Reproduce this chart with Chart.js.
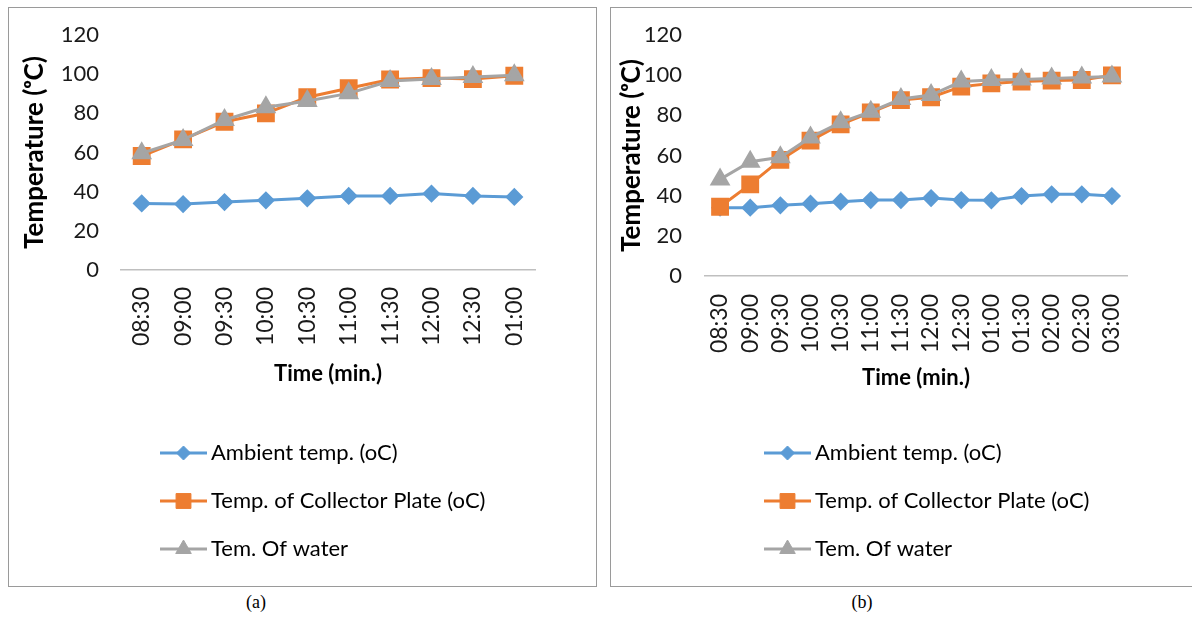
<!DOCTYPE html>
<html>
<head>
<meta charset="utf-8">
<script src="https://cdn.jsdelivr.net/npm/chart.js@4.4.1/dist/chart.umd.min.js"></script>
<style>
    body { margin: 0; background: #fff; width: 1192px; height: 617px; overflow: hidden; position: relative; }
    .panel { position: absolute; top: 7px; height: 578px; border: 1px solid #9a9a9a; background: #fff; }
    #panelA { left: 8px; width: 587px; }
    #panelB { left: 610px; width: 600px; }
    canvas { display: block; }
    .caption { position: absolute; top: 592px; font-family: 'Liberation Serif', serif; font-size: 18px; color: #000; transform: translateX(-50%); }
</style>
</head>
<body>
<div class="panel" id="panelA"><canvas id="chartA" width="587" height="578"></canvas></div>
<div class="panel" id="panelB"><canvas id="chartB" width="581" height="578"></canvas></div>
<div class="caption" style="left:256px">(a)</div>
<div class="caption" style="left:862px">(b)</div>
<script>
// chart (a) data
const timesA = ['08:30', '09:00', '09:30', '10:00', '10:30', '11:00', '11:30', '12:00', '12:30', '01:00'];
const ambientA = [34.0, 33.7, 34.7, 35.6, 36.6, 37.8, 37.8, 39.0, 37.8, 37.3];
const plateA = [58.2, 66.7, 75.7, 80.0, 88.2, 92.8, 97.3, 98.0, 97.5, 99.2];
const waterA = [59.6, 66.4, 76.6, 83.1, 86.3, 90.2, 96.5, 97.5, 98.5, 99.5];

// chart (b) data
const timesB = ['08:30', '09:00', '09:30', '10:00', '10:30', '11:00', '11:30', '12:00', '12:30', '01:00', '01:30', '02:00', '02:30', '03:00'];
const ambientB = [34.0, 34.0, 35.2, 36.0, 37.0, 37.8, 37.8, 38.8, 37.8, 37.7, 39.8, 40.7, 40.7, 39.8];
const plateB = [34.5, 45.6, 57.8, 67.4, 75.5, 81.5, 87.6, 89.0, 94.3, 95.9, 96.8, 97.3, 97.6, 99.9];
const waterB = [48.1, 56.9, 59.1, 69.0, 76.5, 81.8, 88.1, 90.1, 96.8, 97.6, 97.9, 98.4, 98.9, 99.3];

const seriesNames = ['Ambient temp. (oC)', 'Temp. of Collector Plate (oC)', 'Tem. Of water'];
const yTicks = [0, 20, 40, 60, 80, 100, 120];

const FONT = "Lato, 'DejaVu Sans', sans-serif";

// legend drawn as a vertical list, like the office chart
const listLegend = {
    id: 'listLegend',
    afterDraw(chart, args, opts) {
        const ctx = chart.ctx;
        ctx.save();
        chart.data.datasets.forEach((ds, i) => {
            const y = opts.y + i * opts.rowGap;
            ctx.strokeStyle = ds.borderColor;
            ctx.lineWidth = ds.borderWidth;
            ctx.beginPath();
            ctx.moveTo(opts.x, y);
            ctx.lineTo(opts.x + opts.lineLength, y);
            ctx.stroke();

            ctx.fillStyle = ds.pointBackgroundColor;
            ctx.strokeStyle = ds.pointBorderColor;
            ctx.lineWidth = 1;
            Chart.helpers.drawPoint(ctx, {
                pointStyle: ds.pointStyle,
                radius: ds.pointRadius,
                rotation: 0,
                borderWidth: 1
            }, opts.x + opts.lineLength / 2, y);

            ctx.fillStyle = '#000';
            ctx.font = '22px ' + FONT;
            ctx.textBaseline = 'middle';
            ctx.textAlign = 'left';
            ctx.fillText(ds.label, opts.x + opts.lineLength + opts.textGap, y);
        });
        ctx.restore();
    }
};

function makeDatasets(ambient, plate, water) {
    return [{
        label: seriesNames[0],
        data: ambient,
        borderColor: '#5b9bd5',
        backgroundColor: '#5b9bd5',
        pointBackgroundColor: '#5b9bd5',
        pointBorderColor: '#5b9bd5',
        pointStyle: 'rectRot',
        pointRadius: 7,
        borderWidth: 3,
        order: 2
    },
    {
        label: seriesNames[1],
        data: plate,
        borderColor: '#ed7d31',
        backgroundColor: '#ed7d31',
        pointBackgroundColor: '#ed7d31',
        pointBorderColor: '#ed7d31',
        pointStyle: 'rect',
        pointRadius: 10.5,
        borderWidth: 3,
        order: 1
    },
    {
        label: seriesNames[2],
        data: water,
        borderColor: '#a5a5a5',
        backgroundColor: '#a5a5a5',
        pointBackgroundColor: '#a5a5a5',
        pointBorderColor: '#a5a5a5',
        pointStyle: 'triangle',
        pointRadius: 9,
        borderWidth: 3,
        order: 0
    }];
}

function makeConfig(labels, datasets, lay) {
    return {
        type: 'line',
        data: { labels: labels, datasets: datasets },
        options: {
            responsive: false,
            animation: false,
            devicePixelRatio: 1,
            layout: {
                padding: { top: lay.top, right: lay.right, bottom: lay.bottom, left: 0 }
            },
            scales: {
                x: {
                    type: 'category',
                    offset: true,
                    // tick marks are hidden with the grid, tickLength just spaces the labels
                    grid: { display: false, drawTicks: true, tickLength: lay.xTickPad },
                    border: { display: true, color: '#bfbfbf', width: 1.5 },
                    ticks: {
                        autoSkip: false,
                        maxRotation: 90,
                        minRotation: 90,
                        padding: 0,
                        color: '#1a1a1a',
                        font: { family: FONT, size: 23 }
                    },
                    title: {
                        display: true,
                        text: 'Time (min.)',
                        color: '#000',
                        font: { family: FONT, size: 22, weight: 'bold' },
                        padding: { top: 0, bottom: lay.xTitlePad }
                    },
                    afterFit: function (scale) {
                        scale.height = lay.xHeight;
                    }
                },
                y: {
                    min: 0,
                    max: 120,
                    grid: { display: false, drawTicks: true, tickLength: lay.yTickPad },
                    border: { display: false },
                    afterBuildTicks: function (scale) {
                        scale.ticks = yTicks.map(v => ({ value: v }));
                    },
                    ticks: {
                        padding: 0,
                        color: '#1a1a1a',
                        font: { family: FONT, size: 22 }
                    },
                    title: {
                        display: true,
                        text: 'Temperature (ᵒC)',
                        color: '#000',
                        font: { family: FONT, size: 26, weight: 'bold' },
                        padding: { top: lay.yTitlePad, bottom: 0 }
                    },
                    afterFit: function (scale) {
                        scale.width = lay.yWidth;
                    }
                }
            },
            plugins: {
                legend: { display: false },
                tooltip: { enabled: false },
                listLegend: { x: lay.legendX, y: 445, rowGap: 48, lineLength: 47, textGap: 4 }
            }
        },
        plugins: [listLegend]
    };
}

const chartA = new Chart(
    document.getElementById('chartA'),
    makeConfig(timesA, makeDatasets(ambientA, plateA, waterA), {
        top: 27, right: 61, bottom: 193, xHeight: 123, yWidth: 112,
        xTickPad: 17, xTitlePad: 6, yTickPad: 22, yTitlePad: 10, legendX: 151
    })
);

const chartB = new Chart(
    document.getElementById('chartB'),
    makeConfig(timesB, makeDatasets(ambientB, plateB, waterB), {
        top: 27, right: 65, bottom: 187, xHeight: 123, yWidth: 94,
        xTickPad: 18, xTitlePad: 8, yTickPad: 23, yTitlePad: 5, legendX: 153
    })
);
</script>
</body>
</html>
